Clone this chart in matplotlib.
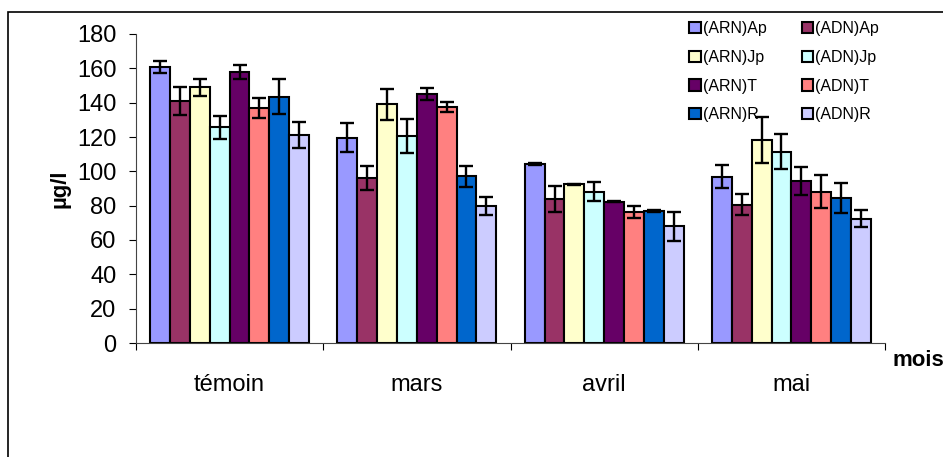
import numpy as np
import matplotlib.pyplot as plt
from matplotlib.patches import Rectangle

plt.rcParams['font.family'] = ['Liberation Sans', 'DejaVu Sans']

# data
months = ['témoin', 'mars', 'avril', 'mai']
series = ['(ARN)Ap', '(ADN)Ap', '(ARN)Jp', '(ADN)Jp',
          '(ARN)T', '(ADN)T', '(ARN)R', '(ADN)R']
colors = ['#9999FF', '#993366', '#FFFFCC', '#CCFFFF',
          '#660066', '#FF8080', '#0066CC', '#CCCCFF']

arn_ap = [161, 119.6, 104.2, 96.9]
adn_ap = [141, 96.3, 84, 80.6]
arn_jp = [149, 139, 92.4, 118.2]
adn_jp = [125.6, 120.4, 88, 111.4]
arn_t = [158, 145, 82.3, 94.5]
adn_t = [137, 137.4, 76.3, 88.1]
arn_r = [143.5, 97, 76.9, 84.4]
adn_r = [121, 79.8, 68.1, 72.4]

err_arn_ap = [3.5, 8.5, 0.4, 6.5]
err_adn_ap = [8, 7, 7.5, 6]
err_arn_jp = [5, 9, 0.4, 13.3]
err_adn_jp = [6.6, 10, 5.5, 10.3]
err_arn_t = [4, 3.3, 0.4, 8.3]
err_adn_t = [6, 3, 3.4, 9.7]
err_arn_r = [10, 6, 0.4, 8.6]
err_adn_r = [7.5, 5, 8.4, 5]

values = [arn_ap, adn_ap, arn_jp, adn_jp, arn_t, adn_t, arn_r, adn_r]
errors = [err_arn_ap, err_adn_ap, err_arn_jp, err_adn_jp,
          err_arn_t, err_adn_t, err_arn_r, err_adn_r]

fig = plt.figure(figsize=(9.43, 4.57), dpi=100)
ax = fig.add_axes([136 / 943, 1 - 343 / 457, 749 / 943, 309 / 457])

# figure border (cut at right and bottom in the original)
fig.patches.append(Rectangle((8 / 943, -0.05), 1.2, 1 - 12 / 457 + 0.05,
                             transform=fig.transFigure, fill=False,
                             edgecolor='black', linewidth=1.2))

x = np.arange(len(months)) + 0.5
width = 0.106
handles = []
for i, (vals, errs) in enumerate(zip(values, errors)):
    pos = x + (i - 3.5) * width
    b = ax.bar(pos, vals, width, color=colors[i], edgecolor='black',
               linewidth=1.5, label=series[i], zorder=2)
    ax.errorbar(pos, vals, yerr=errs, fmt='none', ecolor='black',
                elinewidth=1.7, capsize=5, capthick=1.7, zorder=3)
    handles.append(b)

ax.set_xlim(0, 4)
ax.set_ylim(0, 180)
ax.set_yticks(np.arange(0, 181, 20))
ax.set_xticks([0, 1, 2, 3, 4])
ax.set_xticklabels([])
ax.set_xticks(x, minor=True)
ax.set_xticklabels(months, minor=True, fontsize=17)
ax.tick_params(axis='x', which='minor', length=0, pad=22)
ax.tick_params(axis='x', which='major', direction='out', length=5, width=0.8)
ax.tick_params(axis='y', direction='out', length=5, width=0.8, labelsize=17, pad=9)

for s in ['top', 'right']:
    ax.spines[s].set_visible(False)
for s in ['left', 'bottom']:
    ax.spines[s].set_linewidth(0.8)
    ax.spines[s].set_color('#444444')

ax.set_ylabel('µg/l', fontsize=16, fontweight='bold', labelpad=5)
fig.text(893 / 943, 1 - 360 / 457, 'mois', fontsize=16, fontweight='bold',
         va='center', ha='left')

order = [0, 2, 4, 6, 1, 3, 5, 7]
fig.legend([handles[k] for k in order], [series[k] for k in order],
           loc='upper left', bbox_to_anchor=(683 / 943, 1 - 15 / 457),
           ncol=2, frameon=False, fontsize=11.5, handlelength=0.7,
           handleheight=0.7, handletextpad=0.15, columnspacing=2.2,
           labelspacing=0.85, borderaxespad=0)

fig.savefig('out.png', dpi=100)
